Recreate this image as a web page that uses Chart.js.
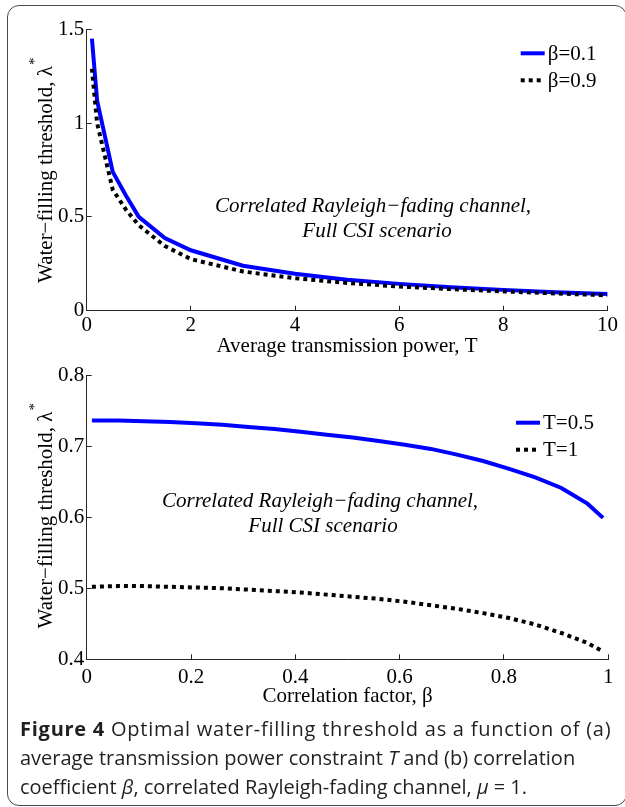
<!DOCTYPE html>
<html><head><meta charset="utf-8">
<script src="https://cdn.jsdelivr.net/npm/chart.js@4.4.1/dist/chart.umd.min.js"></script>
<style>
html,body{margin:0;padding:0;background:#fff;width:625px;height:807px;overflow:hidden;position:relative;}
#frame{position:absolute;left:7px;top:5px;width:620px;height:801px;border:1.5px solid #4a4a4a;border-radius:12px;box-sizing:border-box;}
#c1{position:absolute;left:0;top:0;}
#c2{position:absolute;left:0;top:355px;}
#cap{position:absolute;left:20px;top:714px;width:600px;font-family:"Open Sans",sans-serif;font-size:20px;line-height:29px;color:#231f20;white-space:nowrap;}
#cap b{font-weight:700;}
#cap .l1{letter-spacing:0.75px;}
#cap .l2{letter-spacing:0px;}
#cap .l3{letter-spacing:0px;}
</style></head><body>
<div id="frame"></div>
<canvas id="c1" width="625" height="370"></canvas>
<canvas id="c2" width="625" height="365"></canvas>
<div id="cap"><span class="l1"><b>Figure 4</b> Optimal water-filling threshold as a function of (a)</span><br><span class="l2">average transmission power constraint <i>T</i> and (b) correlation</span><br><span class="l3">coefficient <i>β</i>, correlated Rayleigh-fading channel, <i>μ</i> = 1.</span></div>
<script>
// ---- Top panel data ----
const topT = [0.1, 0.2, 0.5, 0.75, 1, 1.5, 2, 3, 4, 5, 6, 7, 8, 9, 10];
const topBeta01 = [1.45, 1.12, 0.74, 0.615, 0.50, 0.387, 0.322, 0.240, 0.197, 0.165, 0.143, 0.125, 0.111, 0.099, 0.089];
const topBeta09 = [1.29, 1.00, 0.645, 0.54, 0.455, 0.345, 0.275, 0.209, 0.173, 0.148, 0.129, 0.115, 0.103, 0.092, 0.082];
const topXTicks = [0, 2, 4, 6, 8, 10];
const topYTicks = [0, 0.5, 1, 1.5];

// ---- Bottom panel data ----
const beta = [0.01, 0.06, 0.11, 0.16, 0.21, 0.26, 0.31, 0.36, 0.41, 0.46, 0.51, 0.56, 0.61, 0.66, 0.71, 0.76, 0.81, 0.86, 0.91, 0.96, 0.99];
const botT05 = [0.736, 0.736, 0.735, 0.734, 0.732, 0.730, 0.727, 0.724, 0.720, 0.716, 0.712, 0.707, 0.702, 0.696, 0.688, 0.679, 0.668, 0.656, 0.641, 0.619, 0.599];
const botT1 = [0.502, 0.503, 0.503, 0.502, 0.501, 0.500, 0.498, 0.496, 0.494, 0.491, 0.488, 0.485, 0.481, 0.476, 0.471, 0.465, 0.458, 0.449, 0.437, 0.423, 0.411];
const botXTicks = [0, 0.2, 0.4, 0.6, 0.8, 1];
const botYTicks = [0.4, 0.5, 0.6, 0.7, 0.8];

const SERIF = '"Liberation Serif", "Times New Roman", serif';
const AXC = '#262626';

const decor = {
  id: 'decor',
  afterDraw(chart, args, o) {
    const ctx = chart.ctx;
    ctx.save();
    ctx.fillStyle = '#000';
    ctx.translate(o.yTitleX, o.yTitleY);
    ctx.rotate(-Math.PI / 2);
    ctx.font = '21px ' + SERIF;
    const W = ctx.measureText(o.yTitle).width;
    ctx.font = '15px ' + SERIF;
    const w = ctx.measureText('*').width;
    const sx = -(W + w) / 2;
    ctx.textAlign = 'left';
    ctx.textBaseline = 'alphabetic';
    ctx.font = '21px ' + SERIF;
    ctx.fillText(o.yTitle, sx, 0);
    ctx.font = '15px ' + SERIF;
    ctx.fillText('*', sx + W + 1, -13);
    ctx.restore();
    ctx.save();
    ctx.fillStyle = '#000';
    ctx.font = 'italic 21px ' + SERIF;
    ctx.textAlign = 'center';
    ctx.textBaseline = 'middle';
    o.note.forEach((t, i) => ctx.fillText(t, o.noteX + (i ? o.noteDx : 0), o.noteY + i * 25));
    ctx.restore();
    ctx.save();
    chart.data.datasets.forEach((ds, i) => {
      const y = o.legY + i * 27;
      ctx.strokeStyle = ds.borderColor;
      ctx.lineWidth = ds.borderWidth;
      ctx.setLineDash(ds.borderDash || []);
      ctx.lineCap = 'butt';
      ctx.beginPath();
      ctx.moveTo(o.legX, y);
      ctx.lineTo(o.legX + 24, y);
      ctx.stroke();
      ctx.setLineDash([]);
      ctx.fillStyle = '#000';
      ctx.font = '21px ' + SERIF;
      ctx.textAlign = 'left';
      ctx.textBaseline = 'middle';
      ctx.fillText(ds.label, o.legX + 27, y + 1);
    });
    ctx.restore();
  }
};

function fmt(v) { return String(parseFloat(Number(v).toFixed(3))); }

function axis(opts) {
  return {
    type: 'linear',
    position: opts.position,
    min: opts.min, max: opts.max,
    afterBuildTicks: s => { s.ticks = opts.ticks.map(v => ({ value: v })); },
    afterFit: s => { if (opts.width) s.width = opts.width; if (opts.height) s.height = opts.height; },
    ticks: { color: '#000', font: { family: SERIF, size: 21 }, padding: opts.pad, maxRotation: 0, autoSkip: false, callback: v => fmt(v) },
    grid: { display: true, drawOnChartArea: false, drawTicks: true, tickLength: -5, color: AXC, lineWidth: 1 },
    border: { display: true, color: AXC, width: 1 },
    title: opts.title ? { display: true, text: opts.title, color: '#000', font: { family: SERIF, size: 21 }, padding: { top: 0, bottom: opts.titlePad } } : { display: false }
  };
}

function makeChart(id, xs, s1, s2, l1, l2, xa, ya, pad, deco) {
  return new Chart(document.getElementById(id), {
    type: 'line',
    data: {
      datasets: [
        { label: l1, data: xs.map((x, i) => ({ x: x, y: s1[i] })), borderColor: '#0000ff', borderWidth: 4, pointRadius: 0, tension: 0, fill: false, order: 1 },
        { label: l2, data: xs.map((x, i) => ({ x: x, y: s2[i] })), borderColor: '#000000', borderWidth: 4, borderDash: [4, 4], pointRadius: 0, tension: 0, fill: false, order: 0 }
      ]
    },
    options: {
      responsive: false, animation: false, devicePixelRatio: 1, events: [],
      layout: { padding: pad },
      plugins: { legend: { display: false }, tooltip: { enabled: false }, decor: deco },
      scales: { x: xa, y: ya }
    },
    plugins: [decor]
  });
}

makeChart('c1', topT, topBeta01, topBeta09, 'β=0.1', 'β=0.9',
  axis({ position: 'bottom', min: 0, max: 10, ticks: topXTicks, height: 59.3, pad: 7, title: 'Average transmission power, T', titlePad: 10.7 }),
  axis({ position: 'left', min: 0, max: 1.5, ticks: topYTicks, width: 86.7, pad: 7.4 }),
  { left: 0, top: 29.3, right: 16.7, bottom: 0 },
  { yTitle: 'Water\u2212filling threshold, \u03bb', yTitleX: 51.5, yTitleY: 170.8,
    note: ['Correlated Rayleigh\u2212fading channel,', 'Full CSI scenario'], noteX: 373, noteY: 206.7, noteDx: 4,
    legX: 520.7, legY: 53.3 });

makeChart('c2', beta, botT05, botT1, 'T=0.5', 'T=1',
  axis({ position: 'bottom', min: 0, max: 1, ticks: botXTicks, height: 60.7, pad: 11, title: 'Correlation factor, \u03b2', titlePad: 11.4 }),
  axis({ position: 'left', min: 0.4, max: 0.8, ticks: botYTicks, width: 86.7, pad: 7.4 }),
  { left: 0, top: 18.3, right: 16.7, bottom: 0 },
  { yTitle: 'Water\u2212filling threshold, \u03bb', yTitleX: 51.5, yTitleY: 161.3,
    note: ['Correlated Rayleigh\u2212fading channel,', 'Full CSI scenario'], noteX: 320, noteY: 146.7, noteDx: 3,
    legX: 516, legY: 67.7 });
</script>
</body></html>
